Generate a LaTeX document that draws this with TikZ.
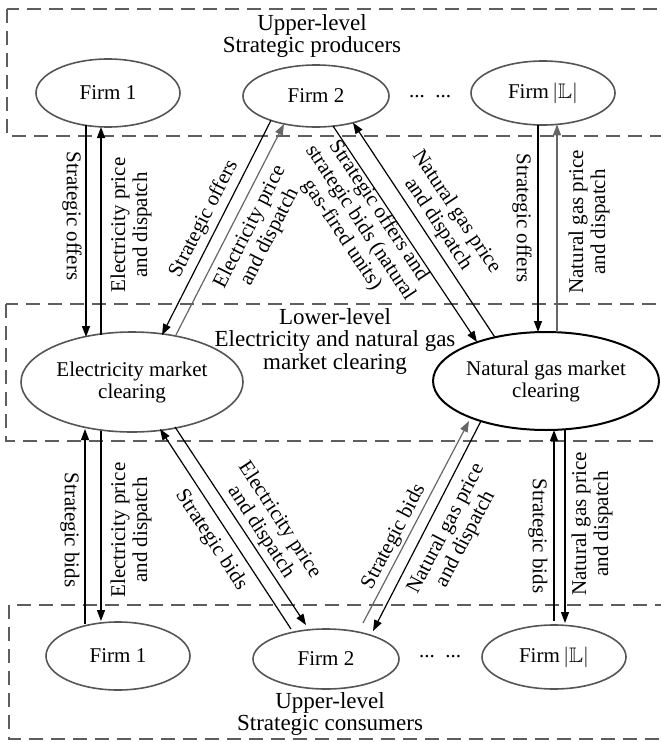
\documentclass[tikz,border=0pt]{standalone}
\usepackage{fontspec}
\usepackage{amssymb}
\setmainfont{Liberation Serif}
\usetikzlibrary{arrows.meta,shapes.geometric}
\definecolor{boxgray}{HTML}{5E5E5E}
\definecolor{ellgray}{HTML}{555555}
\definecolor{arrgray}{HTML}{666666}
\begin{document}
\begin{tikzpicture}[x=1pt,y=-1pt,
  lvl/.style={draw=boxgray, line width=1.8pt, dash pattern=on 14pt off 8pt},
  firm/.style={ellipse, draw=ellgray, line width=1.6pt, inner sep=0pt, font=\fontsize{21}{22}\selectfont, align=center},
  mktbox/.style={firm, draw=black, line width=2pt},
  ttl/.style={align=center, font=\fontsize{23}{22.5}\selectfont, inner sep=0pt},
  lbl/.style={align=center, font=\fontsize{21}{22}\selectfont, inner sep=0pt},
  arr/.style={line width=1.2pt, -{Triangle[length=11pt,width=8pt]}},
  garr/.style={arr, draw=arrgray, color=arrgray}
]
\useasboundingbox (0,0) rectangle (661,742);
\clip (0,0) rectangle (661,742);

% level boxes
\draw[lvl] (7,9) rectangle (700,136);
\draw[lvl] (6,304) rectangle (700,441);
\draw[lvl] (9,605) rectangle (700,739);

% titles
\node[ttl] (ttop) at (312,36) {Upper-level\\Strategic producers};
\node[ttl] (tmid) at (335,341) {Lower-level\\Electricity and natural gas\\market clearing};
\node[ttl] (tbot) at (330,714) {Upper-level\\Strategic consumers};

% ellipses
\node[firm, minimum width=144pt, minimum height=68pt] (pF1) at (108,93) {Firm 1};
\node[firm, minimum width=146pt, minimum height=62pt] (pF2) at (316,96) {Firm 2};
\node[firm, minimum width=144pt, minimum height=64pt] (pFL) at (543,93) {Firm\,$|\mathbb{L}|$};
\node[lbl] (pdots) at (430,97) {...~~...};

\node[firm, minimum width=222pt, minimum height=100pt] (elec) at (132,382) {Electricity market\\clearing};
\node[mktbox, minimum width=224pt, minimum height=98pt] (gas) at (546,381) {Natural gas market\\clearing};

\node[firm, minimum width=144pt, minimum height=68pt] (cF1) at (118,656) {Firm 1};
\node[firm, minimum width=146pt, minimum height=60pt] (cF2) at (326,659) {Firm 2};
\node[firm, minimum width=144pt, minimum height=64pt] (cFL) at (554,657) {Firm\,$|\mathbb{L}|$};
\node[lbl] (cdots) at (440,657) {...~~...};

% connector end points
\coordinate (t1a) at (86,125.4);  \coordinate (t1b) at (86,337);
\coordinate (t2a) at (101,335);   \coordinate (t2b) at (101,127);
\coordinate (t3a) at (271,120.4); \coordinate (t3b) at (162,335);
\coordinate (t4a) at (175,336.8); \coordinate (t4b) at (284,124);
\coordinate (t5a) at (333,126);   \coordinate (t5b) at (477,342);
\coordinate (t6a) at (495,337.4); \coordinate (t6b) at (353,122.7);
\coordinate (t7a) at (538,125);   \coordinate (t7b) at (538,332);
\coordinate (t8a) at (557,332.2); \coordinate (t8b) at (557,124.4);

\coordinate (b1a) at (85,624);    \coordinate (b1b) at (85,429);
\coordinate (b2a) at (101,431);   \coordinate (b2b) at (101,621);
\coordinate (b3a) at (291,629);   \coordinate (b3b) at (160,429);
\coordinate (b4a) at (175,427);   \coordinate (b4b) at (306,625);
\coordinate (b5a) at (363,623);   \coordinate (b5b) at (469,421);
\coordinate (b6a) at (481,421);   \coordinate (b6b) at (373,631);
\coordinate (b7a) at (554,621);   \coordinate (b7b) at (554,430);
\coordinate (b8a) at (565,430);   \coordinate (b8b) at (565,623);

% connectors
\draw[arr]  (t1a) -- (t1b);
\draw[arr]  (t2a) -- (t2b);
\draw[arr]  (t3a) -- (t3b);
\draw[garr] (t4a) -- (t4b);
\draw[arr]  (t5a) -- (t5b);
\draw[arr]  (t6a) -- (t6b);
\draw[arr]  (t7a) -- (t7b);
\draw[garr] (t8a) -- (t8b);

\draw[arr]  (b1a) -- (b1b);
\draw[arr]  (b2a) -- (b2b);
\draw[arr]  (b3a) -- (b3b);
\draw[arr]  (b4a) -- (b4b);
\draw[garr] (b5a) -- (b5b);
\draw[arr]  (b6a) -- (b6b);
\draw[arr]  (b7a) -- (b7b);
\draw[arr]  (b8a) -- (b8b);

% labels
\node[lbl, rotate=-90] (l1) at (72,216) {Strategic offers};
\node[lbl, rotate=90]  (l2) at (131,225) {Electricity price\\and dispatch};
\node[lbl, rotate=63]  (l3) at (204,219) {Strategic offers};
\node[lbl, rotate=63]  (l4) at (260,232) {Electricity price\\and dispatch};
\node[lbl, rotate=-56.3] (l5) at (360,223) {Strategic offers and\\strategic bids (natural\\gas-fired units)};
\node[lbl, rotate=-56.3] (l6) at (447,218) {Natural gas price\\and dispatch};
\node[lbl, rotate=-90] (l7) at (522,218) {Strategic offers};
\node[lbl, rotate=90]  (l8) at (589,222) {Natural gas price\\and dispatch};

\node[lbl, rotate=-90] (m1) at (70,530) {Strategic bids};
\node[lbl, rotate=90]  (m2) at (131,530) {Electricity price\\and dispatch};
\node[lbl, rotate=-56.8] (m3) at (211,540) {Strategic bids};
\node[lbl, rotate=-56.8] (m4) at (270,526) {Electricity price\\and dispatch};
\node[lbl, rotate=62.3] (m5) at (394,537) {Strategic bids};
\node[lbl, rotate=62.3] (m6) at (456,534) {Natural gas price\\and dispatch};
\node[lbl, rotate=-90] (m7) at (538,536) {Strategic bids};
\node[lbl, rotate=90]  (m8) at (592,524) {Natural gas price\\and dispatch};
\end{tikzpicture}
\end{document}
